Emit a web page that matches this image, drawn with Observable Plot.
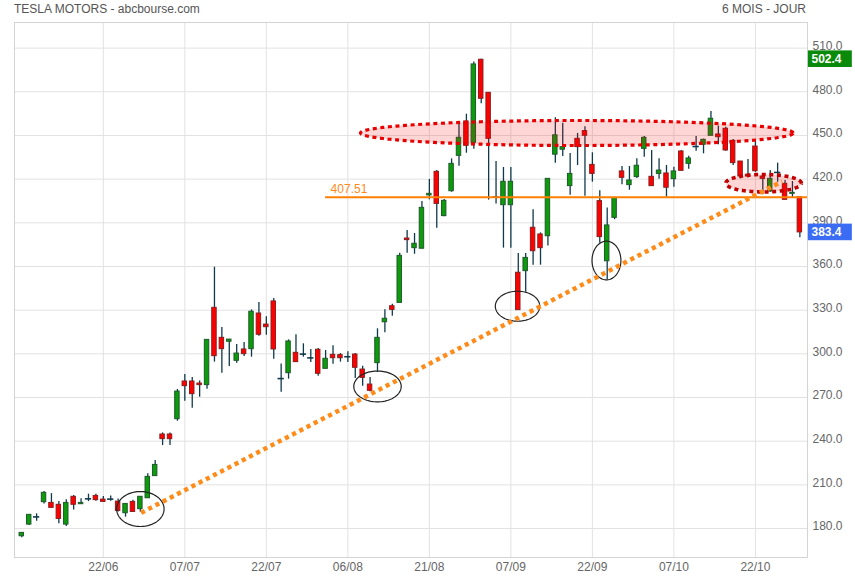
<!DOCTYPE html>
<html><head><meta charset="utf-8">
<script src="https://cdn.jsdelivr.net/npm/d3@7"></script>
<script src="https://cdn.jsdelivr.net/npm/@observablehq/plot@0.6"></script>
<style>
body{margin:0;background:#fff;font-family:"Liberation Sans",Arial,sans-serif;}
#wrap{position:relative;width:855px;height:580px;}
.title{position:absolute;top:2px;font-size:12px;line-height:14px;color:#555;white-space:nowrap;}
</style></head><body>
<div id="wrap">
<div class="title" style="left:14px">TESLA MOTORS - abcbourse.com</div>
<div class="title" style="right:49px">6 MOIS - JOUR</div>
</div>
<script>
// Daily candles, every weekday from 05/06 to 30/10 (holidays repeat previous day)
const opens  = [174.7,182.7,188.0,198.1,197.6,196.3,182.7,201.8,196.7,200.4,202.4,199.9,200.2,198.5,190.5,198.3,193.3,200.8,216.0,244.6,244.6,255.1,281.0,281.0,279.6,278.5,331.6,311.0,308.3,295.2,303.0,303.2,327.7,320.1,336.0,283.0,286.7,300.7,299.8,297.2,302.8,289.7,299.3,299.1,298.0,299.5,289.2,278.9,293.6,321.7,332.7,335.0,379.2,372.6,372.2,408.8,425.0,394.6,411.7,436.0,459.6,444.9,502.0,479.3,407.7,402.1,402.1,355.7,356.8,386.6,382.0,380.8,436.8,440.2,415.2,447.7,453.0,429.8,404.9,363.6,393.4,425.3,415.9,421.4,440.8,421.6,423.6,423.9,420.0,439.0,430.5,442.4,443.6,449.8,450.7,454.6,446.3,432.1,423.0,442.4,421.8,411.5,424.6,416.8,409.9,407.6];
const highs  = [177.2,189.6,190.1,205.4,204.0,198.5,199.7,202.7,200.4,203.6,203.6,202.0,202.4,200.2,196.9,199.5,201.8,217.6,226.7,245.7,245.7,275.5,285.8,283.7,281.4,309.6,359.5,318.1,309.8,306.4,307.8,330.2,335.3,325.4,338.0,293.1,309.6,313.1,306.9,303.0,303.7,302.3,305.5,300.2,301.4,300.2,291.5,283.7,317.2,330.2,334.1,369.1,384.7,382.7,404.6,419.8,425.9,406.0,433.9,458.4,464.6,500.4,502.4,479.3,432.2,428.0,428.0,368.9,368.9,399.0,383.1,420.2,462.2,458.4,437.6,451.4,456.0,438.1,412.0,400.1,407.6,428.7,428.7,434.0,449.3,439.7,434.0,429.4,428.2,439.7,435.8,449.3,447.5,466.5,456.4,455.7,447.2,432.1,433.5,446.1,422.5,425.9,431.0,419.1,418.4,407.6];
const lows   = [173.6,182.1,185.0,196.9,194.0,183.2,181.4,192.8,196.7,198.5,198.8,198.3,198.8,191.4,187.8,191.4,191.2,200.8,216.0,237.0,237.0,253.7,267.5,262.7,270.2,275.7,294.3,286.7,291.3,293.6,298.2,297.7,312.1,312.8,296.3,273.6,282.6,294.3,297.7,294.0,284.6,289.7,292.9,294.3,294.0,283.0,277.8,273.9,287.4,314.4,325.9,335.0,369.1,368.4,372.2,405.8,386.3,394.1,411.0,428.9,437.8,440.6,471.8,405.6,403.0,372.6,372.6,330.0,342.3,360.9,360.9,374.0,431.0,435.6,409.0,429.4,408.3,417.9,376.0,351.1,392.1,416.1,412.4,420.5,435.1,415.2,420.0,407.6,414.5,425.7,426.8,439.2,437.4,449.8,443.6,439.2,429.4,420.2,421.0,424.7,409.3,411.0,417.9,405.8,407.1,379.7];
const closes = [177.0,189.4,188.0,204.5,194.2,186.6,197.6,196.3,197.6,200.4,199.5,198.3,200.2,192.1,196.9,191.4,201.8,215.5,223.7,241.4,241.4,274.1,277.8,272.3,278.5,309.6,298.4,303.2,309.8,300.2,299.8,328.9,313.1,318.3,303.0,283.0,308.5,294.3,299.8,297.2,286.3,296.6,297.0,297.0,298.0,290.4,283.5,274.6,311.0,324.1,330.2,367.3,378.1,375.6,400.3,409.9,403.0,405.1,430.5,448.4,442.9,498.8,475.2,447.7,407.7,418.2,418.2,330.0,365.9,370.5,372.6,420.2,450.1,442.0,423.6,442.0,449.8,423.6,380.2,388.2,407.1,420.9,419.1,429.2,448.4,415.2,425.9,414.1,425.3,425.7,434.2,442.4,447.0,461.5,448.8,439.7,431.0,421.8,421.8,425.4,420.2,420.2,424.6,405.8,410.6,383.4];

const xTickLabels = ["22/06","07/07","22/07","06/08","21/08","07/09","22/09","07/10","22/10"];
const yTicks = [180,210,240,270,300,330,360,390,420,450,480,510];

const supportLevel = 407.51;
const supportFrom = "03/08";
const trendFrom = {date:"29/06", value:190.8};
const trendTo   = {date:"27/10", value:418.5};
const priceTags = [{v:502.4, label:"502.4", color:"#0a8a0a"}, {v:383.4, label:"383.4", color:"#3a6cf4"}];

// annotation ellipses: centre (candle index, price), half-width (candles), half-height (price)
const blackRings = [{cx:16.0, cy:193.4, rx:3.2, ry:12.0},{cx:48.0, cy:277.6, rx:3.2, ry:10.6},{cx:66.9, cy:332.7, rx:3.0, ry:10.3},{cx:78.9, cy:364.1, rx:1.95, ry:13.3}];
const redZones = [{cx:74.9, cy:451.7, rx:29.2, ry:8.6, color:"#e80000", w:3.2},{cx:100.1, cy:417.2, rx:5.1, ry:6.0, color:"#c00000", w:3.6}];

const fmt = d3.utcFormat("%d/%m");
const dates = d3.utcDay.range(new Date(Date.UTC(2020,5,5)), new Date(Date.UTC(2020,9,31)))
  .filter(d => d.getUTCDay() !== 0 && d.getUTCDay() !== 6);
const idxOf = s => dates.findIndex(d => fmt(d) === s);
const candles = dates.map((d,i)=>({i, date:d, o:opens[i], h:highs[i], l:lows[i], c:closes[i]}));
const up = candles.filter(d=>d.c>d.o), down = candles.filter(d=>d.c<d.o), flat = candles.filter(d=>d.c===d.o);
const xTicks = xTickLabels.map(s=>({i:idxOf(s), s}));

const xDomain = [-0.985, 106.03];
const yDomain = [160.1, 527.6];

function ring(e, k){
  return d3.range(0, 97).map(j => {const t = j/96*2*Math.PI; return {k, x:e.cx + e.rx*Math.cos(t), y:e.cy + e.ry*Math.sin(t)};});
}
const blackPts = blackRings.flatMap((e,k)=>ring(e,k));
const redPts = redZones.map((e,k)=>ring(e,k));
const trend = [{x: idxOf(trendFrom.date)+0.1, y: trendFrom.value},{x: idxOf(trendTo.date)+0.6, y: trendTo.value}];

const wick = "#0f3a4c";
const chart = Plot.plot({
  width:855, height:580,
  marginLeft:14, marginRight:48, marginTop:22, marginBottom:23,
  style:{fontFamily:"'Liberation Sans', Arial, sans-serif", fontSize:"12px", background:"transparent"},
  x:{type:"linear", domain:xDomain, axis:null},
  y:{type:"linear", domain:yDomain, axis:null},
  marks:[
    Plot.ruleY(yTicks, {stroke:"#e2e2e2"}),
    Plot.ruleX(xTicks, {x:"i", stroke:"#e2e2e2"}),
    Plot.frame({stroke:"#d4d4d4"}),
    Plot.ruleX(candles, {x:"i", y1:"l", y2:"h", stroke:wick, strokeWidth:1.3}),
    Plot.rect(up, {x1:d=>d.i-0.3, x2:d=>d.i+0.3, y1:"o", y2:"c", fill:"#0b9b0b", stroke:"#1f5a2c", strokeWidth:1}),
    Plot.rect(down, {x1:d=>d.i-0.3, x2:d=>d.i+0.3, y1:"o", y2:"c", fill:"#ff0000", stroke:"#8a1d1d", strokeWidth:1}),
    Plot.ruleY(flat, {y:"c", x1:d=>d.i-0.42, x2:d=>d.i+0.42, stroke:wick, strokeWidth:1.6}),
    Plot.ruleY([supportLevel], {x1:()=>idxOf(supportFrom), x2:()=>xDomain[1], stroke:"#ff8000", strokeWidth:2}),
    Plot.text([supportLevel], {x:()=>idxOf(supportFrom), y:d=>d, text:d=>d.toFixed(2), textAnchor:"start", dx:5, dy:-8, fill:"#ff8a1a", fontSize:12}),
    ...redPts.map((pts,k)=>Plot.line(pts, {x:"x", y:"y", stroke:redZones[k].color, strokeWidth:redZones[k].w, strokeDasharray:"4,3.6", strokeLinecap:"butt", fill:"#ff0000", fillOpacity:0.16})),
    Plot.line(blackPts, {x:"x", y:"y", z:"k", stroke:"#222", strokeWidth:1.2}),
    Plot.line(trend, {x:"x", y:"y", stroke:"#ff8c1a", strokeWidth:4.5, strokeDasharray:"4.2,3.9", strokeLinecap:"butt"}),
    Plot.text(yTicks, {y:d=>d, frameAnchor:"right", text:d=>d.toFixed(1), textAnchor:"start", dx:5, dy:-2, fill:"#666", fontSize:12}),
    Plot.text(xTicks, {x:"i", frameAnchor:"bottom", text:"s", dy:13, fill:"#666", fontSize:12}),
    Plot.rect(priceTags, {x1:()=>xDomain[1]+0.12, x2:()=>xDomain[1]+6.05, y1:d=>d.v-5.7, y2:d=>d.v+5.7, fill:"color"}),
    Plot.text(priceTags, {y:"v", frameAnchor:"right", text:"label", textAnchor:"start", dx:4, fill:"white", fontWeight:"bold", fontSize:12})
  ]
});
document.getElementById("wrap").appendChild(chart);
</script>
</body></html>
